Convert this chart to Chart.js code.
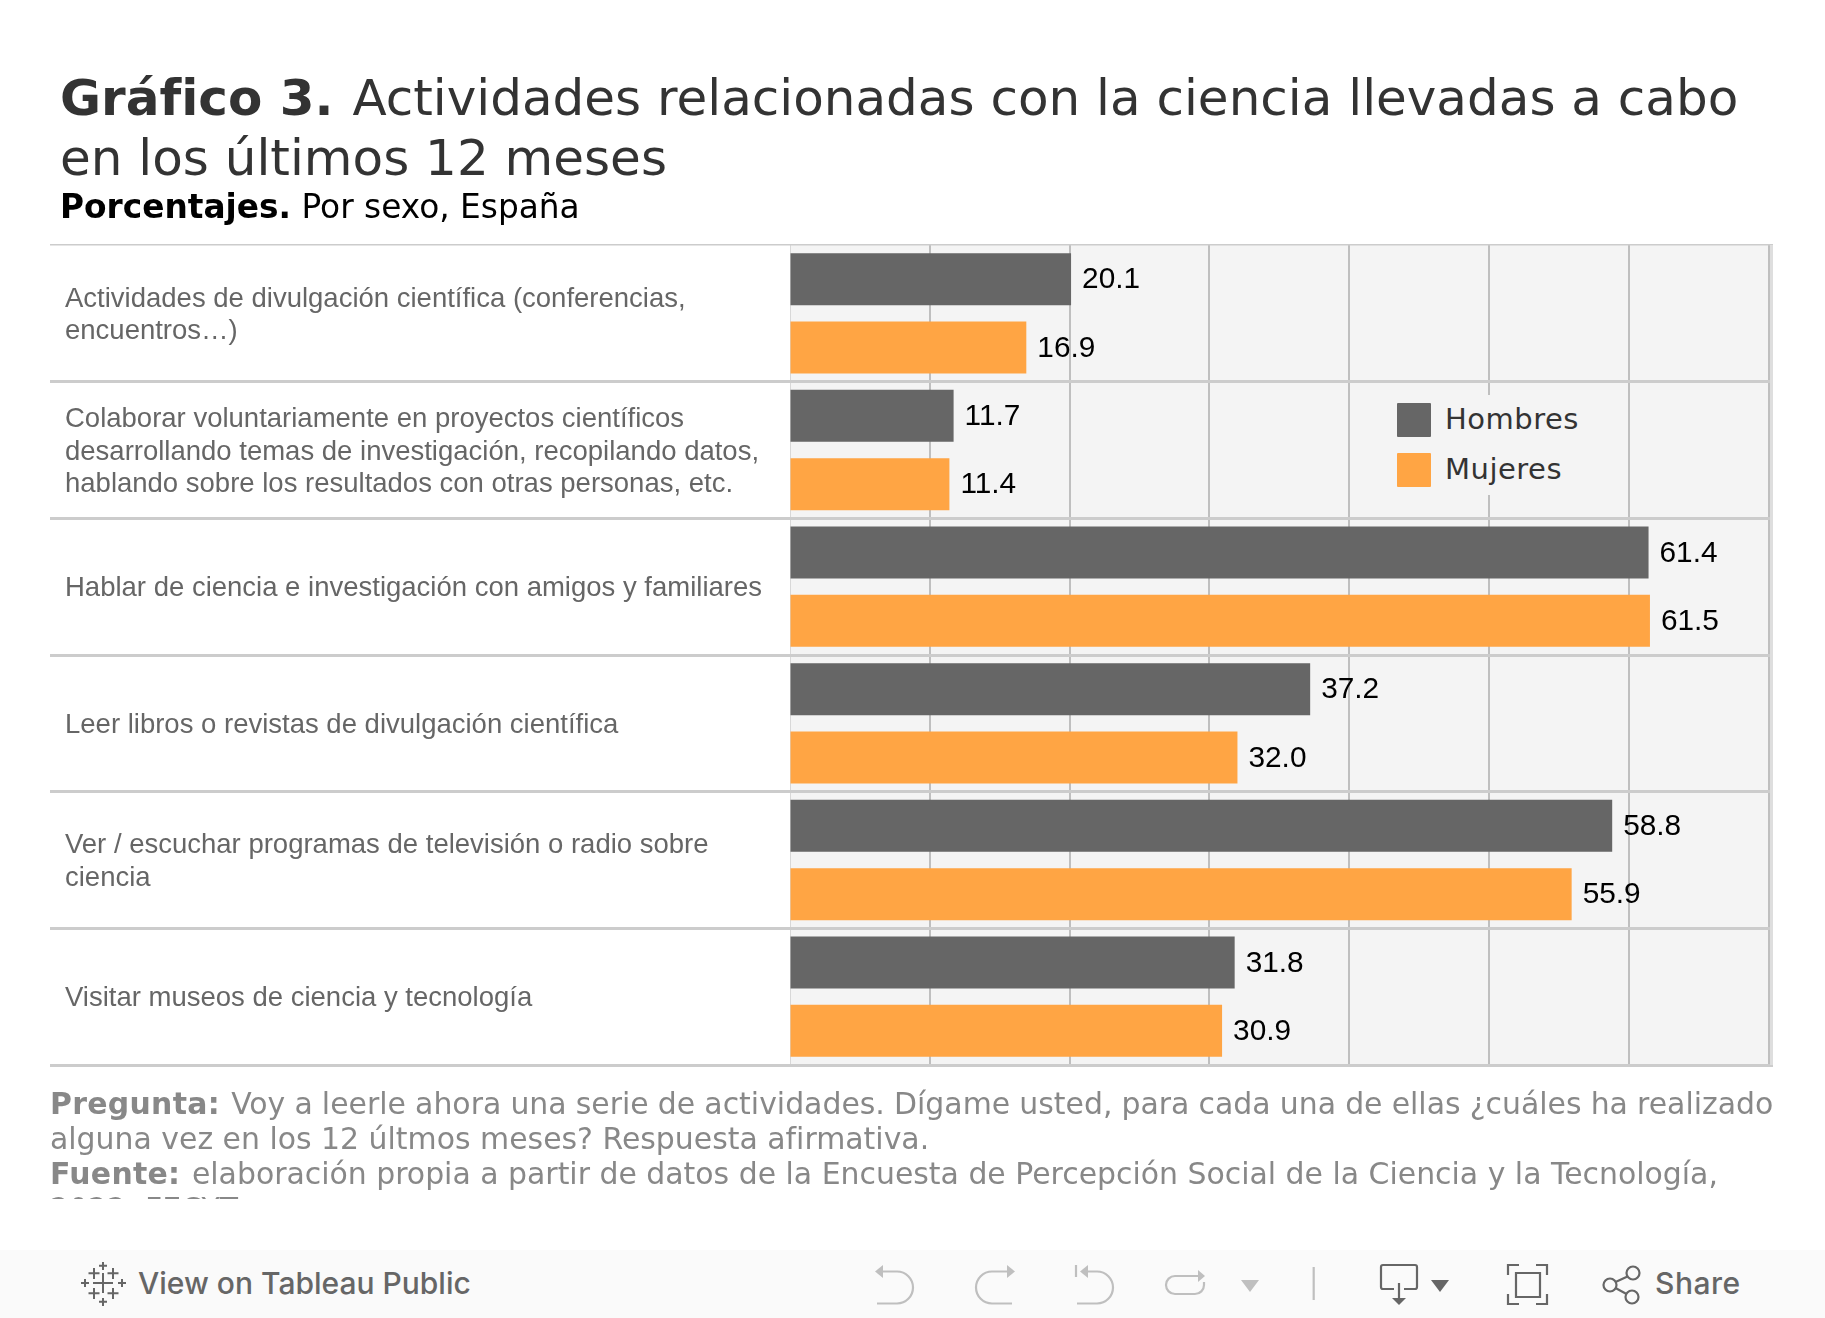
<!DOCTYPE html>
<html lang="es">
<head>
<meta charset="utf-8">
<title>Gráfico 3</title>
<script src="https://cdn.jsdelivr.net/npm/chart.js@4"></script>
<style>
  html, body { margin: 0; padding: 0; background: #fff; }
  body { position: relative; width: 1825px; height: 1318px; overflow: hidden; font-family: "DejaVu Sans", sans-serif; }
  #chart { position: absolute; left: 0; top: 0; }
  .line { position: absolute; white-space: nowrap; }
  .title { left: 60px; font-size: 50px; color: #333; line-height: 60px; }
  .title b { margin-right: 3px; }
  .subtitle { left: 60px; top: 188px; font-size: 32.800px; line-height: 38px; color: #000; }
  #footnotes { position: absolute; left: 50px; top: 1086px; width: 1750px; height: 113px; overflow: hidden; color: #888; font-size: 29.900px; line-height: 35px; }
  #footnotes div { white-space: nowrap; }
  #footnotes b { letter-spacing: 0.300px; margin-right: 2px; }
  #legend { position: absolute; left: 1385px; top: 395px; width: 215px; height: 100px; background: #f4f4f4; }
  .legend-item { position: absolute; left: 12px; height: 34px; line-height: 33px; font-size: 29px; letter-spacing: 0.500px; color: #333; padding-left: 48px; white-space: nowrap; }
  .legend-item i { position: absolute; left: 0; top: 0; width: 34px; height: 34px; border-radius: 1px; }
  #toolbar { position: absolute; left: 0; top: 1250px; width: 1825px; height: 68px; background: #fafafa; }
  #toolbar svg { position: absolute; left: 0; top: 0; }
  .tb-text { position: absolute; top: 13px; line-height: 40px; font-family: Inter, sans-serif; font-weight: 500; font-size: 30px; color: #666; white-space: nowrap; }
</style>
</head>
<body>
<canvas id="chart" width="1825" height="1318"></canvas>

<div class="line title" style="top:68px"><b>Gráfico 3.</b> Actividades relacionadas con la ciencia llevadas a cabo</div>
<div class="line title" style="top:128px">en los últimos 12 meses</div>
<div class="line subtitle"><b>Porcentajes.</b> Por sexo, España</div>

<div id="legend"></div>

<div id="footnotes">
  <div style="word-spacing:-0.350px"><b>Pregunta:</b> Voy a leerle ahora una serie de actividades. Dígame usted, para cada una de ellas ¿cuáles ha realizado</div>
  <div>alguna vez en los 12 últmos meses? Respuesta afirmativa.</div>
  <div><b>Fuente:</b> elaboración propia a partir de datos de la Encuesta de Percepción Social de la Ciencia y la Tecnología,</div>
  <div>2022. FECYT</div>
</div>

<div id="toolbar">
  <svg width="1825" height="68" viewBox="0 0 1825 68" fill="none">
    <!-- tableau logo -->
    <g stroke="#666" stroke-width="2">
      <path d="M103 23V43M93 33H113"/>
      <path d="M94 18V29M88.500 23.300H99.500M113 18V29M107.500 23.300H118.500"/>
      <path d="M94 38V49M88.500 43.300H99.500M113 38V49M107.500 43.300H118.500"/>
      <path d="M103 12V20M99 15.700H107M103 48V56M99 51.700H107"/>
      <path d="M85 29V37M81 33H89M122 29V37M118 33H126"/>
    </g>
    <!-- undo, redo, revert, refresh -->
    <g stroke="#bfbfbf" stroke-width="2.200">
      <path d="M882 21.500H897a16 16 0 0 1 0 32H877"/>
      <path d="M1008 21.500H992a16 16 0 0 0 0 32H1012"/>
      <path d="M1086 21.500H1097a16 16 0 0 1 0 32H1077"/>
      <path d="M1076 15V27"/>
      <path d="M1198 26H1175a9 9 0 0 0 0 18H1195a9 9 0 0 0 9-9V32"/>
      <path d="M1313.700 17V50"/>
    </g>
    <g fill="#bfbfbf">
      <path d="M875 21.500L883 15V28Z"/>
      <path d="M1015 21.500L1007 15V28Z"/>
      <path d="M1080 21.500L1088 15V28Z"/>
      <path d="M1205 26L1198 20V32Z"/>
      <path d="M1241 30H1259L1250 42Z"/>
    </g>
    <!-- download, fullscreen, share -->
    <g stroke="#666" stroke-width="2.200">
      <path d="M1394 39H1383a2 2 0 0 1-2-2V17a2 2 0 0 1 2-2H1415a2 2 0 0 1 2 2V37a2 2 0 0 1-2 2H1404"/>
      <path d="M1399 33V49"/>
      <path d="M1516 23H1540V47H1516Z"/>
      <path d="M1508 25V15H1519M1536 15H1547V25M1547 44V54H1536M1519 54H1508V44"/>
      <circle cx="1633" cy="23" r="6.500"/>
      <circle cx="1610" cy="35" r="6.500"/>
      <circle cx="1632" cy="47" r="6.500"/>
      <path d="M1615.500 32L1627.500 26.500M1615.500 38L1626.500 44"/>
    </g>
    <g fill="#666">
      <path d="M1392 48H1406L1399 55Z"/>
      <path d="M1431 30H1449L1440 42Z"/>
    </g>
  </svg>
  <span class="tb-text" style="left:138px">View on Tableau Public</span>
  <span class="tb-text" style="left:1655px;letter-spacing:0.500px">Share</span>
</div>

<script>
const categories = [
  ["Actividades de divulgación científica (conferencias,", "encuentros…)"],
  ["Colaborar voluntariamente en proyectos científicos", "desarrollando temas de investigación, recopilando datos,", "hablando sobre los resultados con otras personas, etc."],
  ["Hablar de ciencia e investigación con amigos y familiares"],
  ["Leer libros o revistas de divulgación científica"],
  ["Ver / escuchar programas de televisión o radio sobre", "ciencia"],
  ["Visitar museos de ciencia y tecnología"]
];
const hombres = [20.1, 11.7, 61.4, 37.2, 58.8, 31.8];
const mujeres = [16.9, 11.4, 61.5, 32.0, 55.9, 30.9];
const seriesNames = ["Hombres", "Mujeres"];
const seriesColors = ["#666666", "#ffa544"];

// grey plot background
const plotBackground = {
  id: "plotBackground",
  beforeDraw(chart) {
    const { ctx, chartArea: a } = chart;
    ctx.save();
    ctx.fillStyle = "#f4f4f4";
    ctx.fillRect(a.left, a.top, a.right - a.left, a.bottom - a.top);
    ctx.restore();
  }
};

// value next to the end of each bar, and the pale band closing the plot on the right
const valueLabels = {
  id: "valueLabels",
  afterDatasetsDraw(chart) {
    const { ctx, chartArea: a } = chart;
    ctx.save();
    ctx.font = '29.8px "Liberation Sans"';
    ctx.fillStyle = "#000";
    ctx.textBaseline = "middle";
    chart.data.datasets.forEach((ds, i) => {
      chart.getDatasetMeta(i).data.forEach((bar, j) => {
        ctx.fillText(ds.data[j].toFixed(1), bar.x + 11, bar.y + 1);
      });
    });
    ctx.fillStyle = "#dedede";
    ctx.fillRect(a.right - 3, a.top, 3, a.bottom - a.top);
    ctx.restore();
  }
};

const chart = new Chart(document.getElementById("chart"), {
  type: "bar",
  data: {
    labels: categories,
    datasets: [
      { label: seriesNames[0], data: hombres, backgroundColor: seriesColors[0] },
      { label: seriesNames[1], data: mujeres, backgroundColor: seriesColors[1] }
    ]
  },
  plugins: [plotBackground, valueLabels],
  options: {
    indexAxis: "y",
    responsive: false,
    animation: false,
    categoryPercentage: 1,
    barPercentage: 0.76,
    layout: { padding: { left: 65, top: 245, right: 52, bottom: 253 } },
    plugins: { legend: { display: false }, tooltip: { enabled: false } },
    scales: {
      x: {
        min: 0,
        max: 70.3,
        afterFit(scale) { scale.height = 0; },
        ticks: { display: false, stepSize: 10, includeBounds: false },
        border: { display: false },
        grid: {
          drawTicks: false,
          color: ctx => (ctx.index === 0 ? "#d8d8d8" : "#bfbfbf"),
          lineWidth: ctx => (ctx.index === 0 ? 1 : 2)
        }
      },
      y: {
        afterFit(scale) { scale.width = 725; },
        border: { display: false },
        ticks: {
          crossAlign: "far",
          color: "#666",
          labelOffset: 2,
          font: { family: "Liberation Sans", size: 27.5, lineHeight: 1.18 },
          autoSkip: false
        },
        grid: {
          color: "#cccccc",
          tickLength: 740,
          lineWidth: ctx => (ctx.index === 0 ? 1.5 : ctx.index === categories.length ? 2 : 3)
        }
      }
    }
  }
});

// legend box, built from the chart's own datasets
const legendBox = document.getElementById("legend");
chart.data.datasets.forEach((ds, i) => {
  const item = document.createElement("div");
  item.className = "legend-item";
  item.style.top = (8 + i * 50) + "px";
  item.innerHTML = `<i style="background:${ds.backgroundColor}"></i>${ds.label}`;
  legendBox.appendChild(item);
});
</script>
</body>
</html>
